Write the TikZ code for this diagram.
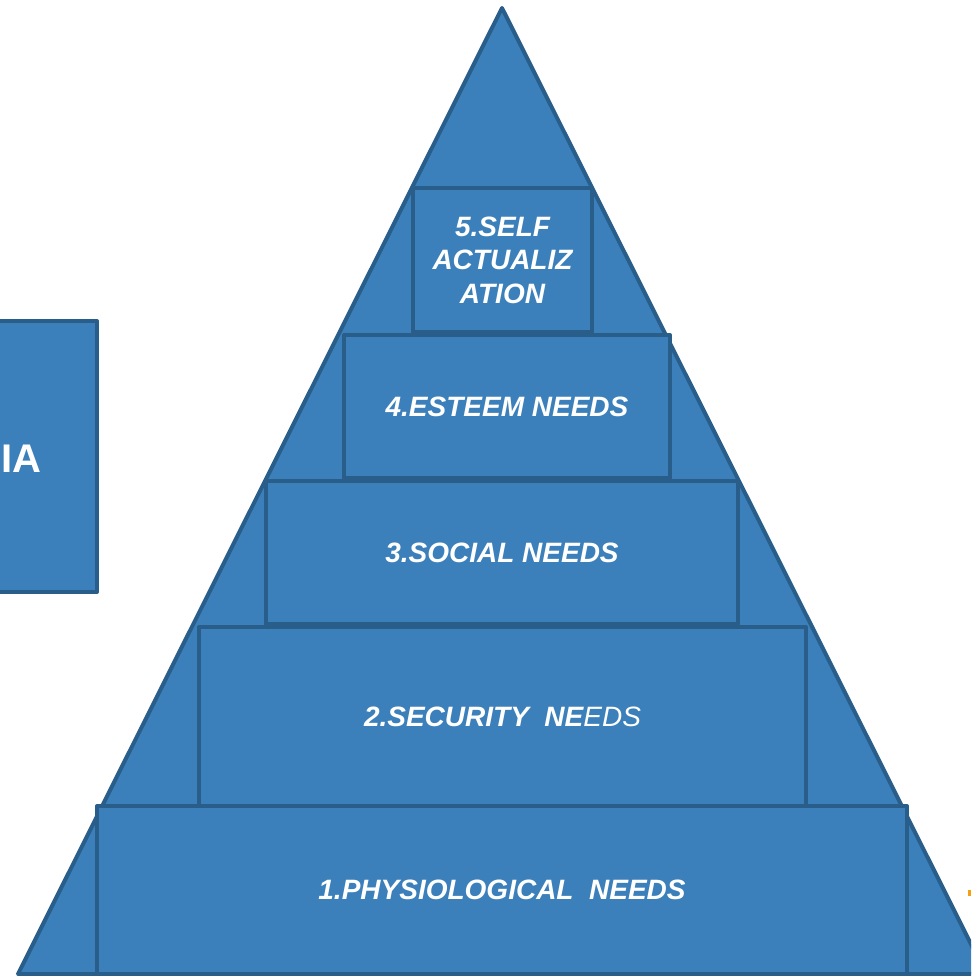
\documentclass[tikz,border=0pt]{standalone}
\usepackage{fontspec}
\setmainfont{Liberation Sans}
\begin{document}
\definecolor{tierfill}{RGB}{59,128,186}
\definecolor{tierline}{RGB}{42,94,138}
\definecolor{markorange}{RGB}{245,160,20}
\begin{tikzpicture}[x=1pt,y=-1pt,
  shell/.style={fill=tierfill,draw=tierline,line width=4pt,line join=round},
  tier/.style={shell,rectangle,inner sep=0pt,outer sep=0pt,text=white,
    font=\fontsize{28}{33.5}\selectfont\bfseries\itshape,align=center},
  sidebox/.style={shell,rectangle,inner sep=0pt,outer sep=0pt}]
\useasboundingbox (0,0) rectangle (971,976);
\clip (0,0) rectangle (971,976);
% side panel, mostly beyond the left edge
\node[sidebox,minimum width=300pt,minimum height=271pt] (side) at (-53,456.5) {};
\node[anchor=east,text=white,inner sep=0pt,font=\fontsize{40}{48}\selectfont\bfseries] (sidetxt) at (42,459) {IA};
% outer triangle
\coordinate (apex) at (502,8);
\coordinate (bl) at (18,974);
\coordinate (br) at (986,974);
\draw[shell] (apex) -- (br) -- (bl) -- cycle;
% stacked tiers, bottom to top
\node[tier,minimum width=810pt,minimum height=168pt] (t1) at (502,890) {1.PHYSIOLOGICAL\ \ NEEDS};
\node[tier,minimum width=607pt,minimum height=179pt] (t2) at (502.5,716.5) {2.SECURITY\ \ NE{\mdseries EDS}};
\node[tier,minimum width=472pt,minimum height=143pt] (t3) at (502,552.5) {3.SOCIAL NEEDS};
\node[tier,minimum width=326pt,minimum height=143pt] (t4) at (507,406.5) {4.ESTEEM NEEDS};
\node[tier,minimum width=179pt,minimum height=144pt] (t5) at (502.5,260) {5.SELF\\ACTUALIZ\\ATION};
% small orange mark at the right edge
\fill[markorange] (968,890) rectangle (971,896);
\end{tikzpicture}
\end{document}
